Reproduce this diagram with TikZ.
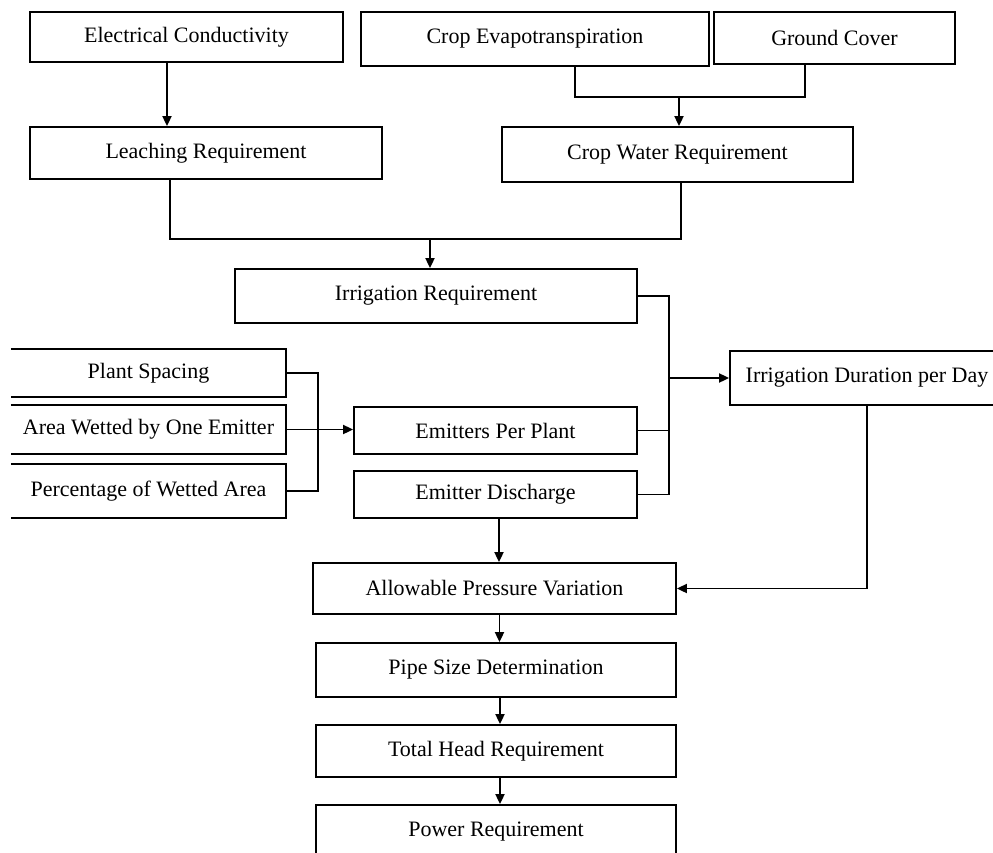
\documentclass[tikz,border=0pt]{standalone}
\usepackage{fontspec}
\setmainfont{Liberation Serif}
\usetikzlibrary{arrows.meta}
\begin{document}
\begin{tikzpicture}[x=1pt,y=-1pt,
  box/.style={draw=black,line width=1.8pt,rectangle,inner sep=0pt,align=center,
    font=\fontsize{22}{25}\selectfont},
  openbox/.style={rectangle,inner sep=0pt,align=center,font=\fontsize{22}{25}\selectfont},
  conn/.style={line width=1.8pt},
  arr/.style={line width=1.8pt,-{Triangle[length=10pt,width=9pt]}}]
\useasboundingbox (0,0) rectangle (993,852);
\clip (0,0) rectangle (993,852);
% top row
\node[box,minimum width=313pt,minimum height=50pt] (ec) at (186.5,37) {Electrical Conductivity};
\node[box,minimum width=348pt,minimum height=54pt] (cet) at (535,39) {Crop Evapotranspiration};
\node[box,minimum width=241pt,minimum height=52pt] (gc) at (834.5,38) {Ground Cover};
% second row
\node[box,minimum width=352pt,minimum height=52pt] (lr) at (206,153) {Leaching Requirement};
\node[box,minimum width=351pt,minimum height=55pt] (cwr) at (677.5,154.5) {Crop Water Requirement};
% irrigation requirement
\node[box,minimum width=402pt,minimum height=54pt] (ir) at (436,296) {Irrigation Requirement};
% left inputs (left side open)
\node[openbox,minimum width=275pt,minimum height=48pt] (ps) at (148.5,373) {Plant Spacing};
\node[openbox,minimum width=275pt,minimum height=49pt] (aw) at (148.5,429.5) {Area Wetted by One Emitter};
\node[openbox,minimum width=275pt,minimum height=54pt] (pw) at (148.5,491) {Percentage of Wetted Area};
\foreach \n in {ps,aw,pw}
  \draw[line width=1.8pt] (\n.north west) -- (\n.north east) -- (\n.south east) -- (\n.south west);
% emitters
\node[box,minimum width=283pt,minimum height=47pt] (epp) at (495.5,430.5) {Emitters Per Plant};
\node[box,minimum width=283pt,minimum height=47pt] (ed) at (495.5,494.5) {Emitter Discharge};
% duration
\node[box,minimum width=274pt,minimum height=54pt] (idd) at (867,378) {Irrigation Duration per Day};
% lower chain
\node[box,minimum width=363pt,minimum height=51pt] (apv) at (494.5,588.5) {Allowable Pressure Variation};
\node[box,minimum width=360pt,minimum height=54pt] (psd) at (496,670) {Pipe Size Determination};
\node[box,minimum width=360pt,minimum height=52pt] (thr) at (496,751) {Total Head Requirement};
\node[box,minimum width=360pt,minimum height=54pt] (pr) at (496,832) {Power Requirement};
% junction coordinates
\coordinate (m1) at (679,97);
\coordinate (m2) at (430,239);
\coordinate (b1) at (318,0);
\coordinate (b2) at (669,0);
% connectors
\draw[arr] ([xshift=-19.5pt]ec.south) -- ([xshift=-19.5pt]ec.south |- lr.north);
\draw[conn] ([xshift=40pt]cet.south) |- (m1) -| ([xshift=-29.5pt]gc.south);
\draw[arr] (m1) -- (m1 |- cwr.north);
\draw[conn] ([xshift=-36pt]lr.south) |- (m2) -| ([xshift=3.5pt]cwr.south);
\draw[arr] (m2) -- (m2 |- ir.north);
% left bus
\draw[conn] (ps.east) -| (b1 |- pw.east) -- (pw.east);
\draw[arr] (aw.east) -- (aw.east -| epp.west);
% right bus
\draw[conn] (ir.east) -| (b2 |- ed.east) -- (ed.east);
\draw[conn] (epp.east) -- (epp.east -| b2);
\draw[arr] (b2 |- idd.west) -- (idd.west);
% lower
\draw[arr] ([xshift=3.5pt]ed.south) -- ([xshift=3.5pt]ed.south |- apv.north);
\draw[arr] (idd.south) |- (apv.east);
\draw[arr] ([xshift=5pt]apv.south) -- ([xshift=5pt]apv.south |- psd.north);
\draw[arr] ([xshift=4pt]psd.south) -- ([xshift=4pt]psd.south |- thr.north);
\draw[arr] ([xshift=4pt]thr.south) -- ([xshift=4pt]thr.south |- pr.north);
\end{tikzpicture}
\end{document}
